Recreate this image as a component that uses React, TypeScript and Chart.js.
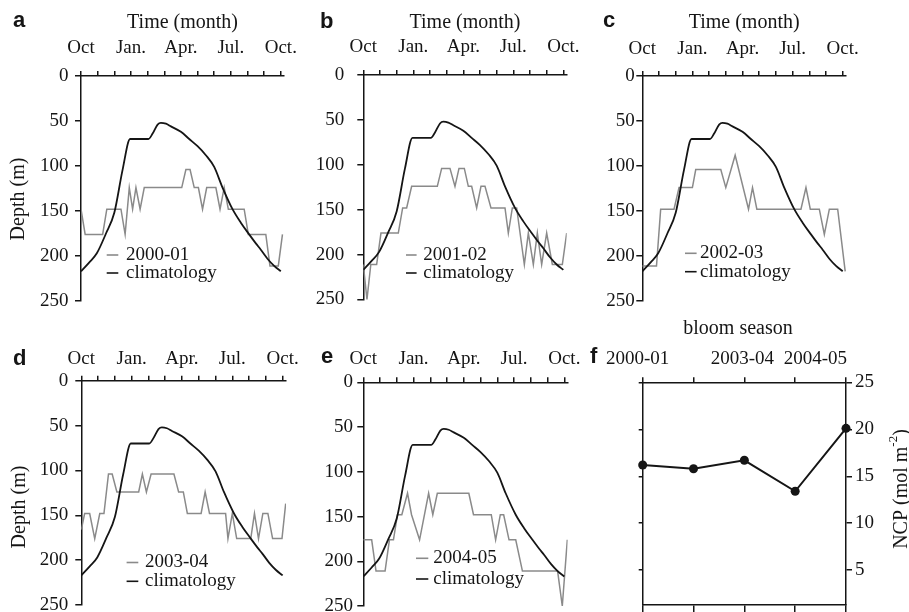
import { useEffect, useRef } from "react";
import { Chart, registerables } from "chart.js";

Chart.register(...registerables);

const SERIF = "'Liberation Serif', 'Times New Roman', Times, serif";
const SANS = "'Liberation Sans', Arial, Helvetica, sans-serif";
const INK = "#151515";
const GREY = "#8a8a8a";

Chart.defaults.font.family = SERIF;
Chart.defaults.font.size = 19;
Chart.defaults.color = INK;

// ---------- data ----------
// months counted from 1 October; tick labels every month, named every quarter
const monthTickLabels = ["Oct", "", "", "Jan.", "", "", "Apr.", "", "", "Jul.", "", "", "Oct."];
const depthTicks = [0, 50, 100, 150, 200, 250];
const X_MAX = 12.2;

// climatological mixed-layer depth (m)
const climMonths = [0, 0.5, 0.95, 1.5, 2.0, 2.5, 2.95, 4.05, 4.3, 4.6, 4.8, 5.1, 5.4, 6.0, 6.5, 7.0, 7.5, 8.0, 8.5, 9.1, 9.6, 10.1, 10.5, 10.8, 11.2, 11.6, 12.0];
const climDepth = [217, 207, 197, 175, 152, 104, 70, 70, 64, 54, 52, 53, 56, 62, 70, 78, 88, 101, 124, 148, 163, 176, 186, 193, 203, 211, 217];

// mixed-layer depth for each bloom season (m)
const months2000 = [0, 0.25, 1.3, 1.55, 2.4, 2.65, 2.9, 3.1, 3.3, 3.55, 3.8, 6.05, 6.3, 6.55, 6.8, 7.05, 7.3, 7.55, 8.1, 8.35, 8.6, 8.85, 9.8, 10.05, 11.1, 11.35, 11.85, 12.1];
const depth2000 = [148, 176, 176, 148, 148, 176, 124, 148, 124, 148, 124, 124, 104, 104, 124, 124, 148, 124, 124, 148, 124, 148, 148, 176, 176, 211, 211, 176];

const months2001 = [0, 0.22, 0.45, 0.8, 1.06, 2.1, 2.36, 2.6, 2.9, 4.44, 4.7, 5.2, 5.5, 5.74, 6.06, 6.3, 6.5, 6.8, 7.06, 7.3, 7.66, 8.5, 8.7, 8.94, 9.2, 9.66, 9.9, 10.2, 10.44, 10.7, 11.0, 11.34, 11.94, 12.2];
const depth2001 = [211, 250, 211, 211, 176, 176, 148, 148, 124, 124, 104, 104, 124, 104, 104, 124, 124, 148, 124, 124, 148, 148, 176, 148, 148, 211, 176, 211, 176, 211, 176, 211, 211, 176];

const months2002 = [0, 0.85, 1.1, 1.9, 2.2, 3.0, 3.2, 4.7, 5.0, 5.56, 6.36, 6.6, 6.86, 9.5, 9.8, 10.06, 10.6, 10.9, 11.2, 11.7, 12.15];
const depth2002 = [211, 211, 148, 148, 124, 124, 104, 104, 124, 88, 148, 124, 148, 148, 124, 148, 148, 176, 148, 148, 217];

const months2003 = [0, 0.2, 0.5, 0.8, 1.1, 1.35, 1.62, 1.84, 2.12, 3.42, 3.64, 3.88, 4.16, 5.52, 5.8, 6.08, 6.32, 7.14, 7.38, 7.64, 8.6, 8.74, 9.0, 9.26, 10.1, 10.32, 10.56, 10.82, 11.12, 11.4, 11.96, 12.18];
const depth2003 = [166, 148, 148, 176, 148, 148, 104, 104, 124, 124, 104, 124, 104, 104, 124, 124, 148, 148, 124, 148, 148, 176, 148, 176, 176, 148, 176, 148, 148, 176, 176, 137];

const months2004 = [0, 0.5, 0.76, 1.3, 1.56, 1.8, 2.04, 2.3, 2.64, 2.88, 3.36, 3.9, 4.15, 4.42, 6.3, 6.58, 7.64, 7.9, 8.18, 8.38, 8.7, 9.1, 9.5, 11.6, 11.88, 12.18];
const depth2004 = [176, 176, 211, 211, 176, 176, 148, 148, 124, 148, 176, 124, 148, 124, 124, 148, 148, 176, 148, 148, 176, 176, 211, 211, 250, 176];

// net community production per bloom season
const seasonLabels = ["2000-01", "", "2003-04", "", "2004-05"];
const ncpValues = [16.2, 15.8, 16.7, 13.4, 20.1];
const ncpTicks = [5, 10, 15, 20, 25];
const NCP_MIN = 1.3;
const NCP_MAX = 25;

// ---------- layout ----------
type Box = { left: number; top: number; width: number; height: number };

type DepthPanel = {
  letter: string;
  label: string;
  months: number[];
  depth: number[];
  canvas: Box;
  plot: { left: number; top: number; monthPx: number; height: number };
  timeTitle: boolean;
  depthTitle?: { x: number; y: number };
  monthPad: number;
  depthPad: number;
  letterAt: { x: number; y: number };
  legend: { dash: [number, number]; text: number; rows: [number, number] };
};

const depthPanels: DepthPanel[] = [
  {
    letter: "a", label: "2000-01", months: months2000, depth: depth2000,
    canvas: { left: 0, top: 0, width: 310, height: 330 },
    plot: { left: 81, top: 76, monthPx: 16.65, height: 225 },
    timeTitle: true, depthTitle: { x: 19, y: 199 }, monthPad: 11.6, depthPad: 6.5,
    letterAt: { x: 13, y: 27 },
    legend: { dash: [25.7, 37.3], text: 45, rows: [179, 197] },
  },
  {
    letter: "b", label: "2001-02", months: months2001, depth: depth2001,
    canvas: { left: 290, top: 0, width: 320, height: 330 },
    plot: { left: 363.3, top: 75, monthPx: 16.67, height: 224.5 },
    timeTitle: true, monthPad: 11.1, depthPad: 13,
    letterAt: { x: 320, y: 28 },
    legend: { dash: [42.7, 53.3], text: 60, rows: [180, 198] },
  },
  {
    letter: "c", label: "2002-03", months: months2002, depth: depth2002,
    canvas: { left: 575, top: 0, width: 334, height: 330 },
    plot: { left: 642.3, top: 76, monthPx: 16.7, height: 225 },
    timeTitle: true, monthPad: 10.6, depthPad: 1.5,
    letterAt: { x: 603, y: 27 },
    legend: { dash: [42.7, 54.3], text: 57.7, rows: [177.3, 195.7] },
  },
  {
    letter: "d", label: "2003-04", months: months2003, depth: depth2003,
    canvas: { left: 0, top: 320, width: 310, height: 310 },
    plot: { left: 81.3, top: 380.7, monthPx: 16.78, height: 224.3 },
    timeTitle: false, depthTitle: { x: 19.5, y: 507 }, monthPad: 5.3, depthPad: 7,
    letterAt: { x: 13, y: 365 },
    legend: { dash: [45.3, 57], text: 63.7, rows: [181.8, 200.6] },
  },
  {
    letter: "e", label: "2004-05", months: months2004, depth: depth2004,
    canvas: { left: 290, top: 320, width: 320, height: 310 },
    plot: { left: 363.3, top: 382.3, monthPx: 16.75, height: 223.7 },
    timeTitle: false, monthPad: 6.9, depthPad: 4.3,
    letterAt: { x: 321, y: 363 },
    legend: { dash: [52.7, 65], text: 70, rows: [176, 196.7] },
  },
];

const ncpCanvas: Box = { left: 560, top: 310, width: 349, height: 330 };
const ncpPlot = { left: 642.7, top: 382.3, right: 846, bottom: 605 };

const axisBorder = { color: INK, width: 1.5 };

function depthDecor(p: DepthPanel) {
  return {
    id: "depthDecor" + p.letter,
    afterDraw(chart: any) {
      const { ctx, chartArea: a } = chart;
      ctx.save();
      ctx.fillStyle = INK;
      ctx.font = `bold 22px ${SANS}`;
      ctx.textAlign = "left";
      ctx.textBaseline = "alphabetic";
      ctx.fillText(p.letter, p.letterAt.x - p.canvas.left, p.letterAt.y - p.canvas.top);

      if (p.depthTitle) {
        ctx.save();
        ctx.translate(p.depthTitle.x - p.canvas.left, p.depthTitle.y - p.canvas.top);
        ctx.rotate(-Math.PI / 2);
        ctx.font = `20px ${SERIF}`;
        ctx.textAlign = "center";
        ctx.textBaseline = "middle";
        ctx.fillText("Depth (m)", 0, 0);
        ctx.restore();
      }

      const rows = [
        { text: p.label, color: GREY },
        { text: "climatology", color: INK },
      ];
      ctx.font = `19px ${SERIF}`;
      ctx.textAlign = "left";
      ctx.textBaseline = "middle";
      rows.forEach((r, i) => {
        const y = a.top + p.legend.rows[i];
        ctx.strokeStyle = r.color;
        ctx.lineWidth = 1.6;
        ctx.beginPath();
        ctx.moveTo(a.left + p.legend.dash[0], y);
        ctx.lineTo(a.left + p.legend.dash[1], y);
        ctx.stroke();
        ctx.fillStyle = INK;
        ctx.fillText(r.text, a.left + p.legend.text, y);
      });
      ctx.restore();
    },
  };
}

function depthConfig(p: DepthPanel): any {
  const yAxisWidth = p.plot.left - p.canvas.left;
  const xAxisHeight = p.plot.top - p.canvas.top;
  const plotW = p.plot.monthPx * X_MAX;
  return {
    type: "line",
    data: {
      datasets: [
        {
          data: climMonths.map((m, i) => ({ x: m, y: climDepth[i] })),
          borderColor: INK,
          borderWidth: 1.8,
          pointRadius: 0,
          cubicInterpolationMode: "monotone",
        },
        {
          data: p.months.map((m, i) => ({ x: m, y: p.depth[i] })),
          borderColor: GREY,
          borderWidth: 1.5,
          pointRadius: 0,
          tension: 0,
        },
      ],
    },
    options: {
      responsive: false,
      animation: false,
      events: [],
      layout: {
        padding: {
          left: 0,
          top: 0,
          right: p.canvas.width - yAxisWidth - plotW,
          bottom: p.canvas.height - xAxisHeight - p.plot.height,
        },
      },
      plugins: { legend: { display: false }, tooltip: { enabled: false } },
      scales: {
        x: {
          type: "linear",
          position: "top",
          min: 0,
          max: X_MAX,
          afterBuildTicks: (s: any) => {
            s.ticks = monthTickLabels.map((_, i) => ({ value: i }));
          },
          afterFit: (s: any) => {
            s.height = xAxisHeight;
          },
          ticks: {
            autoSkip: false,
            maxRotation: 0,
            padding: p.monthPad,
            font: { size: 19 },
            color: INK,
            callback: (v: number) => monthTickLabels[v] ?? "",
          },
          grid: { drawOnChartArea: false, drawTicks: true, tickLength: 5, color: INK, lineWidth: 1.5 },
          border: axisBorder,
          title: {
            display: p.timeTitle,
            text: "Time (month)",
            font: { size: 20 },
            color: INK,
            padding: { top: 11, bottom: 0 },
          },
        },
        y: {
          type: "linear",
          position: "left",
          reverse: true,
          min: 0,
          max: 250,
          afterBuildTicks: (s: any) => {
            s.ticks = depthTicks.map((v) => ({ value: v }));
          },
          afterFit: (s: any) => {
            s.width = yAxisWidth;
          },
          ticks: { padding: p.depthPad, font: { size: 19 }, color: INK },
          grid: { drawOnChartArea: false, drawTicks: true, tickLength: 6, color: INK, lineWidth: 1.5 },
          border: axisBorder,
        },
      },
    },
    plugins: [depthDecor(p)],
  };
}

const ncpDecor = {
  id: "ncpDecor",
  afterDraw(chart: any) {
    const { ctx } = chart;
    const ox = ncpCanvas.left;
    const oy = ncpCanvas.top;
    const xs = chart.scales.x;
    ctx.save();
    ctx.fillStyle = INK;
    ctx.font = `bold 22px ${SANS}`;
    ctx.textAlign = "left";
    ctx.textBaseline = "alphabetic";
    ctx.fillText("f", 590 - ox, 363 - oy);

    ctx.font = `20px ${SERIF}`;
    ctx.textAlign = "center";
    ctx.textBaseline = "middle";
    ctx.fillText("bloom season", 738 - ox, 329 - oy);

    ctx.font = `19px ${SERIF}`;
    const last = seasonLabels.length - 1;
    seasonLabels.forEach((lab, i) => {
      if (!lab) return;
      const px = xs.getPixelForValue(i);
      if (i === last) {
        ctx.textAlign = "right";
        ctx.fillText(lab, px + 1, 359 - oy);
      } else {
        ctx.textAlign = "center";
        ctx.fillText(lab, px - (i === 0 ? 5 : 2), 359 - oy);
      }
    });

    // right-hand axis title, reading upwards, with superscript exponent
    ctx.save();
    ctx.translate(902 - ox, 489 - oy);
    ctx.rotate(-Math.PI / 2);
    ctx.textBaseline = "middle";
    ctx.textAlign = "left";
    const main = "NCP (mol m";
    const sup = "-2";
    const close = ")";
    ctx.font = `20px ${SERIF}`;
    const wMain = ctx.measureText(main).width;
    const wClose = ctx.measureText(close).width;
    ctx.font = `13px ${SERIF}`;
    const wSup = ctx.measureText(sup).width;
    const total = wMain + wSup + wClose;
    let x = -total / 2;
    ctx.font = `20px ${SERIF}`;
    ctx.fillText(main, x, 0);
    x += wMain;
    ctx.font = `13px ${SERIF}`;
    ctx.fillText(sup, x, -8);
    x += wSup;
    ctx.font = `20px ${SERIF}`;
    ctx.fillText(close, x, 0);
    ctx.restore();
    ctx.restore();
  },
};

function ncpConfig(): any {
  const topH = ncpPlot.top - ncpCanvas.top;
  const bottomH = 10;
  const leftW = ncpPlot.left - ncpCanvas.left;
  const rightW = ncpCanvas.left + ncpCanvas.width - ncpPlot.right;
  const grid = (len: number) => ({ drawOnChartArea: false, drawTicks: true, tickLength: len, color: INK, lineWidth: 1.5 });
  const ySetup = (s: any) => {
    s.ticks = ncpTicks.map((v) => ({ value: v }));
  };
  return {
    type: "line",
    data: {
      labels: seasonLabels,
      datasets: [
        {
          data: ncpValues,
          borderColor: INK,
          borderWidth: 2,
          pointRadius: 4.5,
          pointBackgroundColor: INK,
          pointBorderColor: INK,
          pointBorderWidth: 0,
          xAxisID: "x",
          yAxisID: "y",
          clip: false,
        },
      ],
    },
    options: {
      responsive: false,
      animation: false,
      events: [],
      layout: {
        padding: {
          left: 0,
          top: 0,
          right: 0,
          bottom: ncpCanvas.height - (ncpPlot.bottom - ncpCanvas.top) - bottomH,
        },
      },
      plugins: { legend: { display: false }, tooltip: { enabled: false } },
      scales: {
        x: {
          type: "category",
          position: "top",
          offset: false,
          afterFit: (s: any) => {
            s.height = topH;
          },
          ticks: { display: false },
          grid: grid(5),
          border: axisBorder,
        },
        xb: {
          type: "category",
          position: "bottom",
          offset: false,
          afterFit: (s: any) => {
            s.height = bottomH;
          },
          ticks: { display: false },
          grid: grid(8),
          border: axisBorder,
        },
        y: {
          type: "linear",
          position: "right",
          min: NCP_MIN,
          max: NCP_MAX,
          afterBuildTicks: ySetup,
          afterFit: (s: any) => {
            s.width = rightW;
          },
          ticks: { padding: 3, font: { size: 19 }, color: INK },
          grid: grid(6),
          border: axisBorder,
        },
        yl: {
          type: "linear",
          position: "left",
          min: NCP_MIN,
          max: NCP_MAX,
          afterBuildTicks: ySetup,
          afterFit: (s: any) => {
            s.width = leftW;
          },
          ticks: { display: false },
          grid: grid(4),
          border: axisBorder,
        },
      },
    },
    plugins: [ncpDecor],
  };
}

function ChartCanvas({ box, build }: { box: Box; build: () => any }) {
  const ref = useRef<HTMLCanvasElement>(null);
  useEffect(() => {
    const chart = new Chart(ref.current as HTMLCanvasElement, build());
    return () => chart.destroy();
  }, []);
  return (
    <canvas
      ref={ref}
      width={box.width}
      height={box.height}
      style={{ position: "absolute", left: box.left, top: box.top, width: box.width, height: box.height }}
    />
  );
}

export default function App() {
  return (
    <div
      style={{
        position: "fixed",
        left: 0,
        top: 0,
        width: 909,
        height: 612,
        overflow: "hidden",
        background: "#ffffff",
      }}
    >
      {depthPanels.map((p) => (
        <ChartCanvas key={p.letter} box={p.canvas} build={() => depthConfig(p)} />
      ))}
      <ChartCanvas box={ncpCanvas} build={ncpConfig} />
    </div>
  );
}
